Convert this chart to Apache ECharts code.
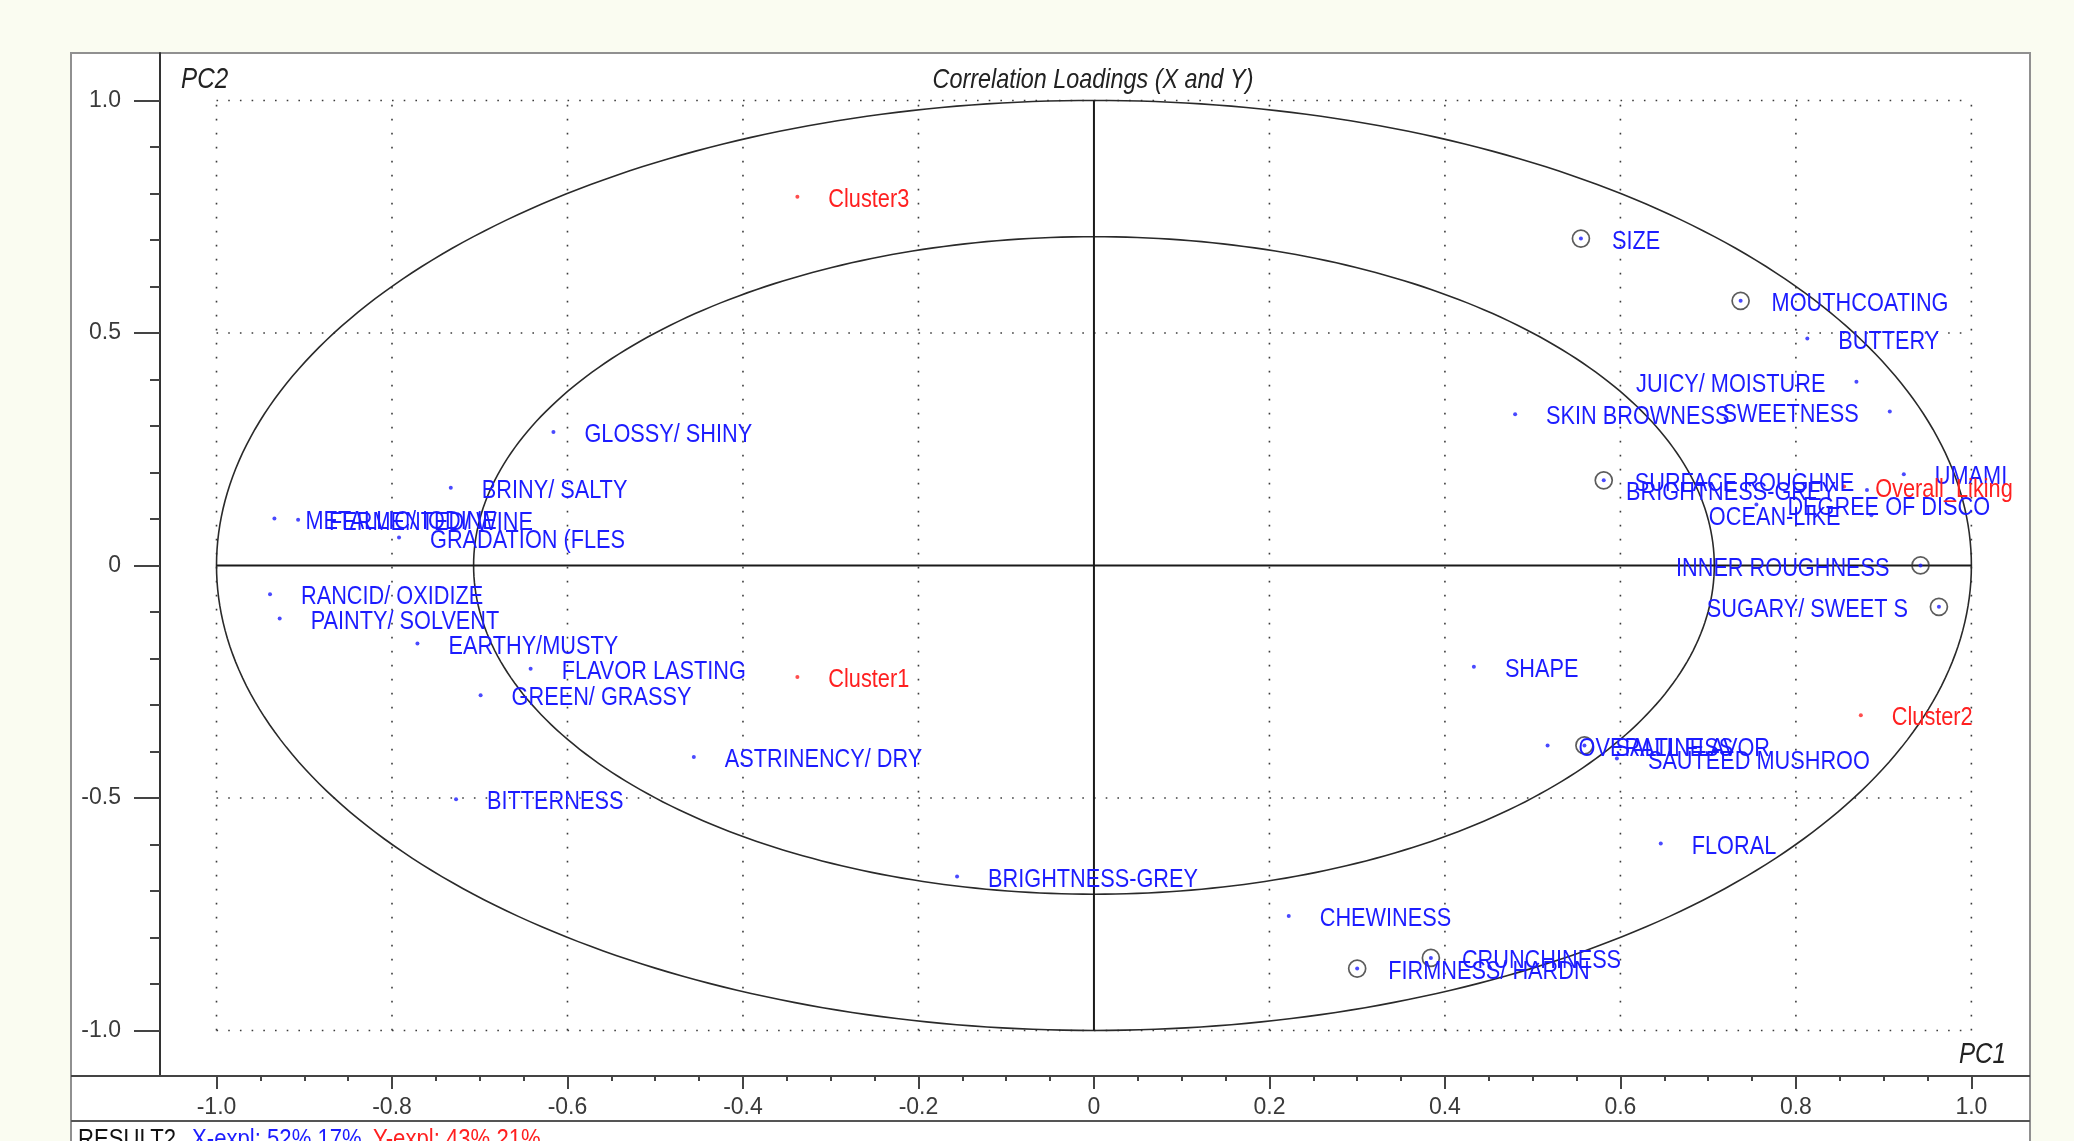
<!DOCTYPE html>
<html>
<head>
<meta charset="utf-8">
<title>Correlation Loadings (X and Y)</title>
<script src="https://cdn.jsdelivr.net/npm/echarts@6.0.0/dist/echarts.min.js"></script>
<style>
  html, body { margin: 0; padding: 0; background: #fafcf1; }
  #main { width: 2074px; height: 1141px; }
</style>
</head>
<body>
<div id="main"></div>
<script>
// X variables (blue), correlation loadings on PC1 / PC2
const xNames = [
  'SIZE', 'MOUTHCOATING', 'BUTTERY', 'JUICY/ MOISTURE', 'SWEETNESS',
  'SKIN BROWNESS', 'SURFACE ROUGHNE', 'BRIGHTNESS-GREY', 'DEGREE OF DISCO', 'OCEAN-LIKE',
  'UMAMI', 'INNER ROUGHNESS', 'SUGARY/ SWEET S', 'SHAPE', 'OVERALL FLAVOR',
  'SALTINESS', 'SAUTEED MUSHROO', 'FLORAL', 'CHEWINESS', 'CRUNCHINESS',
  'FIRMNESS/ HARDN', 'BRIGHTNESS-GREY', 'ASTRINENCY/ DRY', 'BITTERNESS', 'GREEN/ GRASSY',
  'FLAVOR LASTING', 'EARTHY/MUSTY', 'PAINTY/ SOLVENT', 'RANCID/ OXIDIZE', 'GRADATION (FLES',
  'METALLIC/ IODINE', 'FERMENTED/ WINE', 'BRINY/ SALTY', 'GLOSSY/ SHINY'
];
const xPC1 = [
  0.555, 0.737, 0.813, 0.869, 0.907,
  0.480, 0.581, 0.881, 0.755, 0.886,
  0.923, 0.942, 0.963, 0.433, 0.517,
  0.559, 0.596, 0.646, 0.222, 0.384,
  0.300, -0.156, -0.456, -0.727, -0.699,
  -0.642, -0.771, -0.928, -0.939, -0.792,
  -0.934, -0.907, -0.733, -0.616
];
const xPC2 = [
  0.703, 0.569, 0.488, 0.395, 0.331,
  0.325, 0.183, 0.162, 0.131, 0.108,
  0.196, 0.000, -0.089, -0.218, -0.387,
  -0.387, -0.415, -0.598, -0.754, -0.844,
  -0.867, -0.669, -0.412, -0.503, -0.279,
  -0.222, -0.168, -0.114, -0.062, 0.060,
  0.101, 0.098, 0.167, 0.287
];
// variables drawn with the circled marker
const circledNames = ['SIZE', 'MOUTHCOATING', 'SURFACE ROUGHNE', 'INNER ROUGHNESS',
  'SUGARY/ SWEET S', 'SALTINESS', 'CRUNCHINESS', 'FIRMNESS/ HARDN'];
// index of the points whose label sits on the left side
const leftLabelIdx = [3, 4, 7, 9, 11, 12];

// Y variables (red)
const yNames = ['Cluster1', 'Cluster2', 'Cluster3', 'Overall_Liking'];
const yPC1 = [-0.338, 0.874, -0.338, 0.855];
const yPC2 = [-0.240, -0.322, 0.793, 0.170];

// axes
const xTickValues = [-1.0, -0.8, -0.6, -0.4, -0.2, 0, 0.2, 0.4, 0.6, 0.8, 1.0];
const xTickLabels = ['-1.0', '-0.8', '-0.6', '-0.4', '-0.2', '0', '0.2', '0.4', '0.6', '0.8', '1.0'];
const yTickValues = [-1.0, -0.5, 0, 0.5, 1.0];
const yTickLabels = ['-1.0', '-0.5', '0', '0.5', '1.0'];
const ellipseRadii = [1.0, 0.707];
const xExpl = [52, 17];
const yExpl = [43, 21];

const FONT = "'Liberation Sans', Arial, sans-serif";
const NARROW = 0.835;   // the original uses a condensed face
const BLUE = '#1c1cff';
const RED = '#ff2020';
const LABEL_GAP = 31;
const X_MIN = -1.0644, X_MAX = 1.0668;
const Y_MIN = -1.098, Y_MAX = 1.102;

function minorTicks(major, parts) {
  let out = [];
  for (let i = 0; i < major.length - 1; i++) {
    let step = (major[i + 1] - major[i]) / parts;
    for (let k = 1; k < parts; k++) out.push(+(major[i] + k * step).toFixed(3));
  }
  return out;
}
function tickLabel(values, labels, v) {
  let i = values.findIndex(t => Math.abs(t - v) < 1e-6);
  return i >= 0 ? labels[i] : '';
}
// point names, drawn a bit squeezed like the original
function labelSeries(xs, ys, names, color, leftIdx) {
  return {
    type: 'custom', silent: true, z: 6, clip: false,
    data: xs.map((v, i) => [v, ys[i]]),
    encode: { x: 0, y: 1 },
    renderItem: function (params, api) {
      let i = params.dataIndex;
      let p = api.coord([api.value(0), api.value(1)]);
      let left = leftIdx.indexOf(i) >= 0;
      return {
        type: 'text',
        x: p[0] + (left ? -LABEL_GAP : LABEL_GAP), y: p[1] + 3,
        scaleX: NARROW,
        style: { text: names[i], font: '26px ' + FONT, fill: color,
          align: left ? 'right' : 'left', verticalAlign: 'middle' }
      };
    }
  };
}

let chart = echarts.init(document.getElementById('main'));

let circled = [];
xNames.forEach((n, i) => { if (circledNames.indexOf(n) >= 0) circled.push([xPC1[i], xPC2[i]]); });

let xFirst = xTickValues[0], xLast = xTickValues[xTickValues.length - 1];
let yFirst = yTickValues[0], yLast = yTickValues[yTickValues.length - 1];

let series = [];
// dotted grid, only inside -1..1
xTickValues.filter(v => v !== 0).forEach(v => {
  series.push({
    type: 'line', data: [[v, yFirst], [v, yLast]], symbol: 'none', silent: true, z: 1,
    lineStyle: { color: '#3c3c3c', width: 1.6, type: [1.6, 12.4], cap: 'butt' }
  });
});
yTickValues.filter(v => v !== 0).forEach(v => {
  series.push({
    type: 'line', data: [[xFirst, v], [xLast, v]], symbol: 'none', silent: true, z: 1,
    lineStyle: { color: '#3c3c3c', width: 1.6, type: [1.6, 10.1], cap: 'butt' }
  });
});
// zero lines
series.push({
  type: 'line', data: [[xFirst, 0], [xLast, 0]], symbol: 'none', silent: true, z: 2,
  lineStyle: { color: '#1a1a1a', width: 2 }
});
series.push({
  type: 'line', data: [[0, yFirst], [0, yLast]], symbol: 'none', silent: true, z: 2,
  lineStyle: { color: '#1a1a1a', width: 2 }
});
// 100% and 50% explained variance ellipses
series.push({
  type: 'custom', silent: true, z: 2, clip: false,
  data: ellipseRadii.map(r => [r, 0]),
  encode: { x: 0, y: 1 },
  renderItem: function (params, api) {
    let r = api.value(0);
    let pts = [];
    for (let a = 0; a <= 360; a += 1) {
      let t = a * Math.PI / 180;
      pts.push(api.coord([r * Math.cos(t), r * Math.sin(t)]));
    }
    return {
      type: 'polyline',
      shape: { points: pts },
      style: { stroke: '#2a2a2a', lineWidth: 1.6, fill: 'none' }
    };
  }
});
// circled markers
series.push({
  type: 'scatter', data: circled, symbol: 'circle', symbolSize: 17, silent: true, z: 4,
  itemStyle: { color: 'rgba(255,255,255,0)', borderColor: '#333', borderWidth: 1.7 }
});
series.push({
  type: 'scatter', name: 'X', data: xPC1.map((v, i) => [v, xPC2[i]]), symbolSize: 4, z: 5,
  itemStyle: { color: BLUE }
});
series.push({
  type: 'scatter', name: 'Y', data: yPC1.map((v, i) => [v, yPC2[i]]), symbolSize: 4, z: 5,
  itemStyle: { color: RED }
});
series.push(labelSeries(xPC1, xPC2, xNames, BLUE, leftLabelIdx));
series.push(labelSeries(yPC1, yPC2, yNames, RED, []));

let axisText = { fontSize: 23, color: '#3a3a3a', fontFamily: FONT };

function squeezedText(str, x, y, size, color, align, italic) {
  return {
    type: 'text', z: 10, x: x, y: y, scaleX: NARROW,
    style: { text: str, font: (italic ? 'italic ' : '') + size + 'px ' + FONT, fill: color,
      textAlign: align, textVerticalAlign: 'middle' }
  };
}

let option = {
  animation: false,
  backgroundColor: '#fafcf1',
  grid: { left: 160, right: 44, top: 53, bottom: 65 },
  xAxis: [
    {
      type: 'value', min: X_MIN, max: X_MAX, position: 'bottom',
      axisLine: { show: false, onZero: false },
      axisTick: { show: true, customValues: xTickValues, length: 13, lineStyle: { color: '#444', width: 2 } },
      axisLabel: Object.assign({ show: true, customValues: xTickValues, margin: 20,
        formatter: v => tickLabel(xTickValues, xTickLabels, v) }, axisText),
      splitLine: { show: false }
    },
    {
      type: 'value', min: X_MIN, max: X_MAX, position: 'bottom',
      axisLine: { show: false, onZero: false },
      axisTick: { show: true, customValues: minorTicks(xTickValues, 4), length: 5, lineStyle: { color: '#444', width: 2 } },
      axisLabel: { show: false },
      splitLine: { show: false }
    }
  ],
  yAxis: [
    {
      type: 'value', min: Y_MIN, max: Y_MAX, position: 'left',
      axisLine: { show: true, onZero: false, lineStyle: { color: '#333', width: 2 } },
      axisTick: { show: true, customValues: yTickValues, length: 26, lineStyle: { color: '#444', width: 2 } },
      axisLabel: Object.assign({ show: true, customValues: yTickValues, margin: 39,
        formatter: v => tickLabel(yTickValues, yTickLabels, v) }, axisText),
      splitLine: { show: false }
    },
    {
      type: 'value', min: Y_MIN, max: Y_MAX, position: 'left',
      axisLine: { show: false, onZero: false },
      axisTick: { show: true, customValues: minorTicks(yTickValues, 5), length: 10, lineStyle: { color: '#444', width: 2 } },
      axisLabel: { show: false },
      splitLine: { show: false }
    }
  ],
  graphic: {
    elements: [
      { type: 'rect', z: -10, shape: { x: 71, y: 53, width: 1959, height: 1110 },
        style: { fill: '#ffffff', stroke: '#909090', lineWidth: 2 } },
      { type: 'line', z: 10, shape: { x1: 71, y1: 1076, x2: 2030, y2: 1076 },
        style: { stroke: '#444', lineWidth: 2 } },
      { type: 'line', z: 10, shape: { x1: 71, y1: 1121, x2: 2030, y2: 1121 },
        style: { stroke: '#555', lineWidth: 2 } },
      squeezedText('Correlation Loadings (X and Y)', 1093, 80, 28, '#222', 'center', true),
      squeezedText('PC2', 181, 80, 29, '#222', 'left', true),
      squeezedText('PC1', 2006, 1055, 29, '#222', 'right', true),
      squeezedText('RESULT2', 78, 1140, 26.5, '#111', 'left', false),
      squeezedText('X-expl: ' + xExpl[0] + '% ' + xExpl[1] + '%', 192, 1140, 26.5, BLUE, 'left', false),
      squeezedText('Y-expl: ' + yExpl[0] + '% ' + yExpl[1] + '%', 373, 1140, 26.5, RED, 'left', false)
    ]
  },
  series: series
};
chart.setOption(option);
</script>
</body>
</html>
